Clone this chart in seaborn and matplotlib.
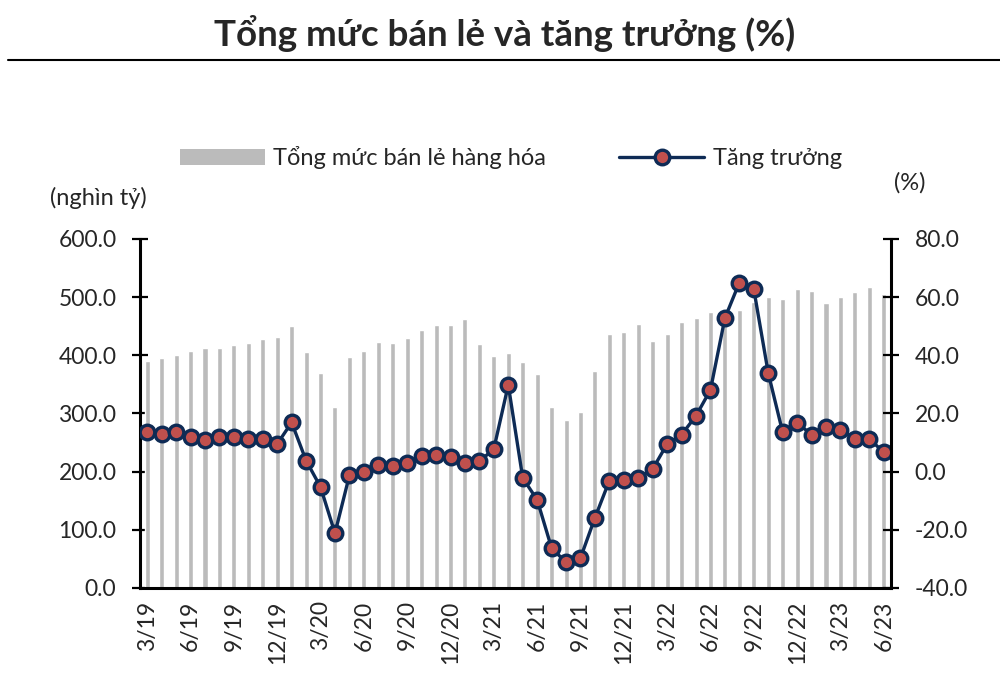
import numpy as np
import pandas as pd
import seaborn as sns
import matplotlib.pyplot as plt
from matplotlib.patches import Patch
from matplotlib.lines import Line2D

# ---- data (Mar 2019 .. Jun 2023, monthly) ----
retail = [390.5, 394.5, 400.9, 407.7, 411.7, 412.3, 418.0, 420.9, 427.2, 430.6,
          449.5, 405.5, 369.4, 311.0, 396.2, 407.7, 422.0, 420.9, 429.5, 443.3, 451.2, 452.4,
          462.7, 419.8, 399.1, 404.3, 388.3, 368.2, 311.0, 288.7, 302.4, 372.8, 436.9, 440.4,
          453.6, 424.9, 436.9, 457.0, 463.9, 473.6, 480.0, 477.7, 491.4, 500.0, 496.6, 514.3,
          510.8, 490.2, 500.0, 509.6, 517.7, 505.2]
growth = [13.6, 13.0, 13.6, 11.9, 10.9, 11.9, 11.8, 11.3, 11.2, 9.5,
          16.9, 3.8, -5.3, -21.2, -1.3, 0.0, 2.4, 1.8, 2.8, 5.2, 5.6, 4.9,
          2.8, 3.5, 7.8, 29.8, -2.2, -9.7, -26.3, -31.2, -29.7, -15.9, -3.1, -2.9,
          -2.2, 0.9, 9.5, 12.7, 19.2, 28.1, 52.8, 65.0, 62.7, 33.9, 13.5, 16.8,
          12.7, 15.5, 14.4, 11.3, 11.3, 6.6]
tick_labels = ['3/19', '6/19', '9/19', '12/19', '3/20', '6/20', '9/20', '12/20',
               '3/21', '6/21', '9/21', '12/21', '3/22', '6/22', '9/22', '12/22',
               '3/23', '6/23']
left_ticks = [0, 100, 200, 300, 400, 500, 600]
right_ticks = [-40, -20, 0, 20, 40, 60, 80]

title = 'Tổng mức bán lẻ và tăng trưởng (%)'
bar_label = 'Tổng mức bán lẻ hàng hóa'
line_label = 'Tăng trưởng'

BAR = '#BBBBBB'
NAVY = '#0E2B55'
RED = '#C0504D'
FS = 16.5

sns.set_style('white')
plt.rcParams['font.family'] = ['Lato', 'Noto Sans', 'DejaVu Sans']

fig = plt.figure(figsize=(10, 6.75), dpi=100)
ax = fig.add_axes([0.14, 0.129, 0.751, 0.517])

n = len(retail)
idx = np.arange(n)
df = pd.DataFrame({'i': idx, 'retail': retail, 'growth': growth})

sns.barplot(data=df, x='i', y='retail', color=BAR, saturation=1, width=0.35, ax=ax)
ax2 = ax.twinx()
sns.lineplot(data=df, x='i', y='growth', ax=ax2, color=NAVY, lw=2.4, marker='o',
             markersize=10.5, markerfacecolor=RED, markeredgecolor=NAVY, markeredgewidth=2.4)

ax.set_xlim(-0.5, n - 0.5)
ax.set_ylim(0, 600)
ax2.set_ylim(-40, 80)
ax.set_xlabel('')
ax.set_ylabel('')
ax2.set_ylabel('')

# x ticks: marks at category boundaries, labels at categories
ax.set_xticks(np.arange(-0.5, n, 3))
ax.set_xticklabels([])
ax.set_xticks(np.arange(0, n, 3), minor=True)
ax.set_xticklabels(tick_labels, minor=True, rotation=90, fontsize=FS)
ax.tick_params(axis='x', which='major', direction='in', length=5, width=1.5, color='black')
ax.tick_params(axis='x', which='minor', length=0, pad=9)

ax.set_yticks(left_ticks)
ax.set_yticklabels([f'{v:.1f}' for v in left_ticks], fontsize=FS)
ax.tick_params(axis='y', direction='inout', length=12, width=1.6, pad=11, color='black')
ax2.set_yticks(right_ticks)
ax2.set_yticklabels([f'{v:.1f}' for v in right_ticks], fontsize=FS)
ax2.tick_params(axis='y', direction='inout', length=12, width=1.6, pad=11, color='black')

for s in ['top', 'right']:
    ax.spines[s].set_visible(False)
for s in ['top', 'left', 'bottom']:
    ax2.spines[s].set_visible(False)
for s in ['left', 'bottom']:
    ax.spines[s].set_linewidth(2.2)
    ax.spines[s].set_color('black')
ax2.spines['right'].set_linewidth(2.2)
ax2.spines['right'].set_color('black')
ax.grid(False)
ax2.grid(False)

# title and rule
fig.text(0.505, 0.950, title, ha='center', va='center', fontsize=26.5, fontweight='bold')
fig.add_artist(Line2D([0.008, 1.0], [0.911, 0.911], transform=fig.transFigure,
                      color='black', lw=1.5))

# legend
handles = [Patch(facecolor=BAR, edgecolor='none', label=bar_label),
           Line2D([0], [0], color=NAVY, lw=2.4, marker='o', markersize=10.5,
                  markerfacecolor=RED, markeredgecolor=NAVY, markeredgewidth=2.4,
                  label=line_label)]
fig.legend(handles=handles, loc='center', bbox_to_anchor=(0.511, 0.766), ncol=2,
           frameon=False, fontsize=17, handlelength=3.6, handletextpad=0.35,
           columnspacing=3.1)

fig.text(0.05, 0.707, '(nghìn tỷ)', ha='left', va='center', fontsize=17)
fig.text(0.91, 0.729, '(%)', ha='center', va='center', fontsize=17)

fig.savefig('out.png', dpi=100)
